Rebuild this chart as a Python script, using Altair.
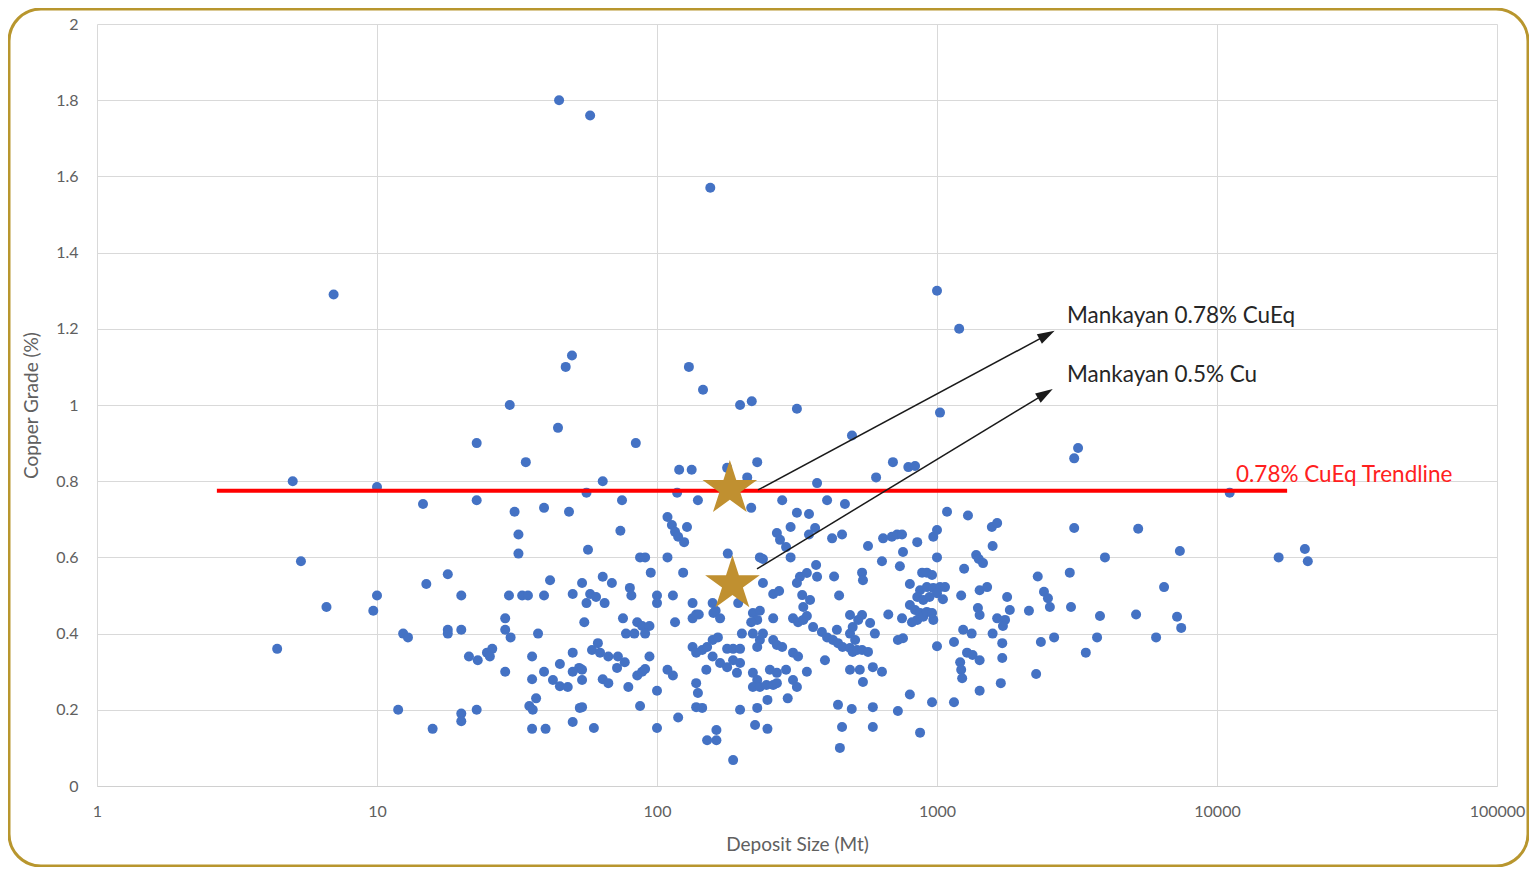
import altair as alt
import pandas as pd

# ---- Deposits: (deposit size in Mt, copper grade in %) ----
deposits_small = [
    (5.0, 0.80), (5.35, 0.59), (4.4, 0.36), (6.6, 0.47), (7.0, 1.29),
    (22.7, 0.90), (34, 0.85), (10, 0.785), (14.6, 0.74), (22.7, 0.75), (31, 0.72), (39.5, 0.73),
    (32, 0.66), (32, 0.61), (41.5, 0.54), (17.9, 0.556), (15, 0.53), (20, 0.50), (10, 0.50),
    (9.7, 0.46), (29.6, 0.50), (33, 0.50), (34.6, 0.50), (39.5, 0.50), (28.7, 0.44), (28.7, 0.41),
    (30, 0.39), (37.6, 0.40), (12.4, 0.40), (12.9, 0.39), (17.9, 0.41), (17.9, 0.40), (20, 0.41),
    (21.3, 0.34), (22.9, 0.33), (24.7, 0.35), (25.8, 0.36), (25.3, 0.34), (28.7, 0.30), (35.8, 0.34),
    (39.5, 0.30), (35.8, 0.28), (37, 0.23), (35, 0.21), (36, 0.20), (11.9, 0.20), (20, 0.19),
    (20, 0.17), (22.7, 0.20), (15.8, 0.15), (35.8, 0.15), (40, 0.15),
]

deposits_high_grade = [
    (44.7, 1.80), (57.7, 1.76), (155, 1.57), (49.7, 1.13), (47.2, 1.10), (130, 1.10), (146, 1.04),
    (29.8, 1.00), (198, 1.00), (218, 1.01), (316, 0.99), (44.3, 0.94), (84, 0.90), (1000, 1.30),
    (1200, 1.20), (1025, 0.98), (497, 0.92),
]

deposits_mid = [
    (120, 0.83), (133, 0.83), (228, 0.85), (178, 0.835), (210, 0.81), (64, 0.80), (56, 0.77),
    (118, 0.77), (373, 0.795), (75, 0.75), (140, 0.75), (280, 0.75), (48.5, 0.72), (217, 0.73),
    (405, 0.75), (109, 0.706), (113, 0.685), (116, 0.667), (119, 0.654), (125, 0.64), (128, 0.68),
    (74, 0.67), (316, 0.717), (349, 0.714), (300, 0.68), (268, 0.664), (275, 0.646), (289, 0.627),
    (349, 0.66), (367, 0.677), (56.7, 0.62), (87, 0.60), (90.7, 0.60), (109, 0.60), (179, 0.61),
    (233, 0.60), (239, 0.596), (300, 0.60), (370, 0.58), (95, 0.56), (124, 0.56),
    (54, 0.533), (50, 0.504), (57.7, 0.504), (60.6, 0.496), (64, 0.549), (69, 0.533), (65, 0.48),
    (56, 0.48), (80, 0.52), (81, 0.50), (100, 0.50), (100, 0.48), (114, 0.50), (134, 0.48),
    (158, 0.48), (162, 0.46), (195, 0.48), (239, 0.533), (260, 0.504), (273, 0.512), (324, 0.549),
    (343, 0.559), (316, 0.533), (330, 0.501), (352, 0.488), (333, 0.47), (373, 0.549),
    (55, 0.43), (75.6, 0.44), (77.5, 0.40), (85, 0.43), (88.5, 0.42), (94, 0.42), (90.7, 0.40),
    (83, 0.40), (116, 0.43), (134, 0.44), (138, 0.45), (141, 0.45), (159, 0.454), (168, 0.44),
    (220, 0.454), (228, 0.436), (217, 0.43), (233, 0.46), (260, 0.44), (306, 0.44), (319, 0.43),
    (333, 0.436), (343, 0.446), (361, 0.417), (388, 0.404), (405, 0.39),
]

deposits_mid_low = [
    (50, 0.35), (45, 0.32), (58.6, 0.357), (61.5, 0.375), (62.6, 0.35), (67, 0.34), (72.5, 0.34),
    (72, 0.31), (76.7, 0.325), (94, 0.34), (52.7, 0.31), (54, 0.305), (50, 0.30),
    (42.5, 0.278), (45, 0.262), (48, 0.26), (54, 0.278), (64, 0.28), (67, 0.27), (79, 0.26),
    (85, 0.29), (88.5, 0.30), (90.7, 0.307), (109, 0.305), (114, 0.29), (100, 0.25), (138, 0.27),
    (140, 0.244), (150, 0.305), (158, 0.34), (168, 0.323), (178, 0.312), (187, 0.33), (198, 0.323),
    (193, 0.297), (134, 0.365), (138, 0.35), (145, 0.357), (151, 0.365), (158, 0.383), (165, 0.39),
    (178, 0.36), (187, 0.36), (198, 0.36), (201, 0.40), (220, 0.40), (233, 0.383), (228, 0.365),
    (239, 0.40), (260, 0.383), (268, 0.37), (280, 0.365), (306, 0.35), (319, 0.34), (253, 0.305),
    (268, 0.297), (289, 0.305), (220, 0.297), (228, 0.278), (220, 0.26), (233, 0.26), (246, 0.265),
    (260, 0.265), (268, 0.27), (306, 0.278), (316, 0.26), (293, 0.23), (343, 0.30), (398, 0.33),
    (87, 0.21), (53, 0.205), (54, 0.207), (50, 0.168), (59.5, 0.152), (100, 0.152), (119, 0.18),
    (138, 0.207), (145, 0.205), (151, 0.12), (163, 0.12), (163, 0.147), (198, 0.20), (228, 0.205),
    (224, 0.16), (248, 0.15), (187, 0.068), (248, 0.226),
]

deposits_large = [
    (3190, 0.887), (3090, 0.86), (696, 0.85), (790, 0.837), (835, 0.84), (606, 0.81), (469, 0.74),
    (1086, 0.72), (1290, 0.71), (1570, 0.68), (1640, 0.69), (3090, 0.677), (422, 0.65), (458, 0.66),
    (567, 0.63), (642, 0.65), (690, 0.654), (720, 0.66), (750, 0.66), (850, 0.64), (970, 0.654),
    (1000, 0.672), (756, 0.614), (636, 0.59), (737, 0.577), (1000, 0.60), (1380, 0.606),
    (1410, 0.596), (1460, 0.585), (1580, 0.63), (1250, 0.57), (429, 0.55), (540, 0.56), (544, 0.54),
    (447, 0.50), (800, 0.53), (885, 0.56), (920, 0.56), (960, 0.554), (870, 0.514), (920, 0.522),
    (970, 0.52), (1025, 0.522), (1068, 0.522), (1000, 0.506), (1050, 0.49), (850, 0.496),
    (893, 0.488), (940, 0.496), (800, 0.475), (835, 0.462), (870, 0.454), (850, 0.436), (893, 0.444),
    (920, 0.457), (970, 0.436), (960, 0.454), (750, 0.44), (814, 0.43), (670, 0.45), (725, 0.383),
    (756, 0.388), (1000, 0.367), (1220, 0.50), (1420, 0.514), (1510, 0.522), (1400, 0.467),
    (1420, 0.449), (1780, 0.496), (1820, 0.462), (1640, 0.44), (1750, 0.436), (1720, 0.42),
    (1580, 0.40), (1710, 0.375), (1710, 0.336), (1240, 0.41), (1330, 0.40), (1150, 0.378),
    (1280, 0.35), (1340, 0.344), (1420, 0.33), (1210, 0.325), (1220, 0.305), (1230, 0.283),
    (1420, 0.25), (1690, 0.27), (2130, 0.46), (2290, 0.55), (2410, 0.51), (2490, 0.493),
    (2530, 0.47), (2980, 0.56), (3010, 0.47), (2350, 0.378), (2620, 0.39), (2260, 0.294),
    (3400, 0.35), (3820, 0.446), (3730, 0.39), (3980, 0.60),
    (439, 0.41), (425, 0.383), (443, 0.375), (460, 0.365), (489, 0.362), (500, 0.352), (518, 0.357),
    (540, 0.357), (567, 0.352), (510, 0.383), (489, 0.40), (500, 0.417), (523, 0.436), (489, 0.449),
    (540, 0.449), (577, 0.428), (600, 0.40), (489, 0.305), (530, 0.305), (544, 0.273), (590, 0.312),
    (636, 0.30), (443, 0.213), (496, 0.202), (590, 0.207), (725, 0.197), (800, 0.24), (960, 0.22),
    (1150, 0.22), (458, 0.155), (590, 0.155), (870, 0.14), (450, 0.10),
]

deposits_giant = [
    (11100, 0.77), (5230, 0.675), (7370, 0.617), (16600, 0.60), (20600, 0.622), (21100, 0.59),
    (6470, 0.522), (5140, 0.45), (7200, 0.444), (7450, 0.415), (6060, 0.39),
]

# Mankayan project (stars)
mankayan_size = [182, 186]
mankayan_grade = [0.78, 0.53]

# Trendline
trend_size = [2.68, 17800]
trend_grade = 0.775

# Arrows: start (size, grade) -> end (size, grade)
arrow_start = [(229.5, 0.777), (227.6, 0.57)]
arrow_end = [(2471, 1.184), (2437, 1.03)]
arrow_angle = [62, 59]

# Labels
labels = ["Mankayan 0.78% CuEq", "Mankayan 0.5% Cu"]
label_size = [2913, 2913]
label_grade = [1.234, 1.079]
trend_label = "0.78% CuEq Trendline"
trend_label_pos = (11690, 0.816)

x_ticks = [1, 10, 100, 1000, 10000, 100000]
y_ticks = [0, 0.2, 0.4, 0.6, 0.8, 1.0, 1.2, 1.4, 1.6, 1.8, 2.0]

STAR_PATH = ("M0,-1L0.224,-0.309L0.951,-0.309L0.363,0.118L0.588,0.809L0,0.382"
             "L-0.588,0.809L-0.363,0.118L-0.951,-0.309L-0.224,-0.309Z")
HEAD_PATH = "M0,-1L0.62,1L-0.62,1Z"

# ---- Build one combined table ----
rows = []
all_deposits = (deposits_small + deposits_high_grade + deposits_mid + deposits_mid_low
                + deposits_large + deposits_giant)
for s, g in all_deposits:
    rows.append({"kind": "deposit", "size": s, "grade": g})
for s, g in zip(mankayan_size, mankayan_grade):
    rows.append({"kind": "star", "size": s, "grade": g})
for i, s in enumerate(trend_size):
    rows.append({"kind": "trend", "size": s, "grade": trend_grade, "order": i})
for i, (st, en) in enumerate(zip(arrow_start, arrow_end)):
    rows.append({"kind": "arrow", "id": i, "size": st[0], "grade": st[1],
                 "size2": en[0], "grade2": en[1]})
    rows.append({"kind": "head", "id": i, "size": en[0], "grade": en[1], "angle": arrow_angle[i]})
for t, s, g in zip(labels, label_size, label_grade):
    rows.append({"kind": "label", "size": s, "grade": g, "text": t})
rows.append({"kind": "trendlabel", "size": trend_label_pos[0], "grade": trend_label_pos[1],
             "text": trend_label})
df = pd.DataFrame(rows)

W, H = 1400, 762

X = alt.X("size:Q", scale=alt.Scale(type="log", domain=[1, 100000]), axis=alt.Axis(
    values=x_ticks, format="d", title="Deposit Size (Mt)",
    grid=True, gridColor="#D9D9D9", domain=True, domainColor="#D0D0D0",
    ticks=False, tickSize=0, labelPadding=17, labelFontSize=16, labelColor="#606060",
    labelFont="Lato", titleFont="Lato", titleFontSize=19, titleFontWeight="normal",
    titleColor="#606060", titlePadding=16, labelFlush=False))
Y = alt.Y("grade:Q", scale=alt.Scale(domain=[0, 2], nice=False), axis=alt.Axis(
    values=y_ticks, format="~g", title="Copper Grade (%)",
    grid=True, gridColor="#D9D9D9", domain=False, ticks=False, tickSize=0,
    labelPadding=19, labelFontSize=16, labelColor="#606060", labelFont="Lato",
    titleFont="Lato", titleFontSize=19, titleFontWeight="normal", titleColor="#606060",
    titlePadding=14))

base = alt.Chart(df)


def only(kind):
    return alt.datum.kind == kind


border = base.transform_filter(only("trend")).transform_filter("datum.order == 0").mark_rect(
    fillOpacity=0, stroke="#B8962E", strokeWidth=3, cornerRadius=32, clip=False
).encode(x=alt.value(-88), x2=alt.value(W + 31), y=alt.value(-15), y2=alt.value(H + 80))

points = base.transform_filter(only("deposit")).mark_circle(
    size=100, color="#4472C4", opacity=1).encode(x=X, y=Y)

trend = base.transform_filter(only("trend")).mark_line(
    color="#FF0000", strokeWidth=4).encode(x=X, y=Y, order="order:Q")

arrows = base.transform_filter(only("arrow")).mark_rule(
    color="#1A1A1A", strokeWidth=1.5).encode(x=X, y=Y, x2="size2:Q", y2="grade2:Q")

heads = base.transform_filter(only("head")).mark_point(
    shape=HEAD_PATH, filled=True, color="#1A1A1A", size=300, opacity=1).encode(
    x=X, y=Y, angle=alt.Angle("angle:Q", scale=None))

stars = base.transform_filter(only("star")).mark_point(
    shape=STAR_PATH, filled=True, color="#C09030", size=3300, opacity=1).encode(x=X, y=Y)

label_text = base.transform_filter(only("label")).mark_text(
    align="left", baseline="middle", font="Lato", fontSize=22.5, color="#262626"
).encode(x=X, y=Y, text="text:N")

trend_text = base.transform_filter(only("trendlabel")).mark_text(
    align="left", baseline="middle", font="Lato", fontSize=22.5, color="#FF2020"
).encode(x=X, y=Y, text="text:N")

chart = alt.layer(
    border, points, trend, arrows, heads, stars, label_text, trend_text
).properties(
    width=W, height=H,
    autosize=alt.AutoSizeParams(type="none"),
    padding={"left": 89, "top": 16, "right": 32, "bottom": 81},
    background="white",
).configure_view(strokeWidth=0)

chart.save("out.html", embed_options={"renderer": "svg", "actions": False})
